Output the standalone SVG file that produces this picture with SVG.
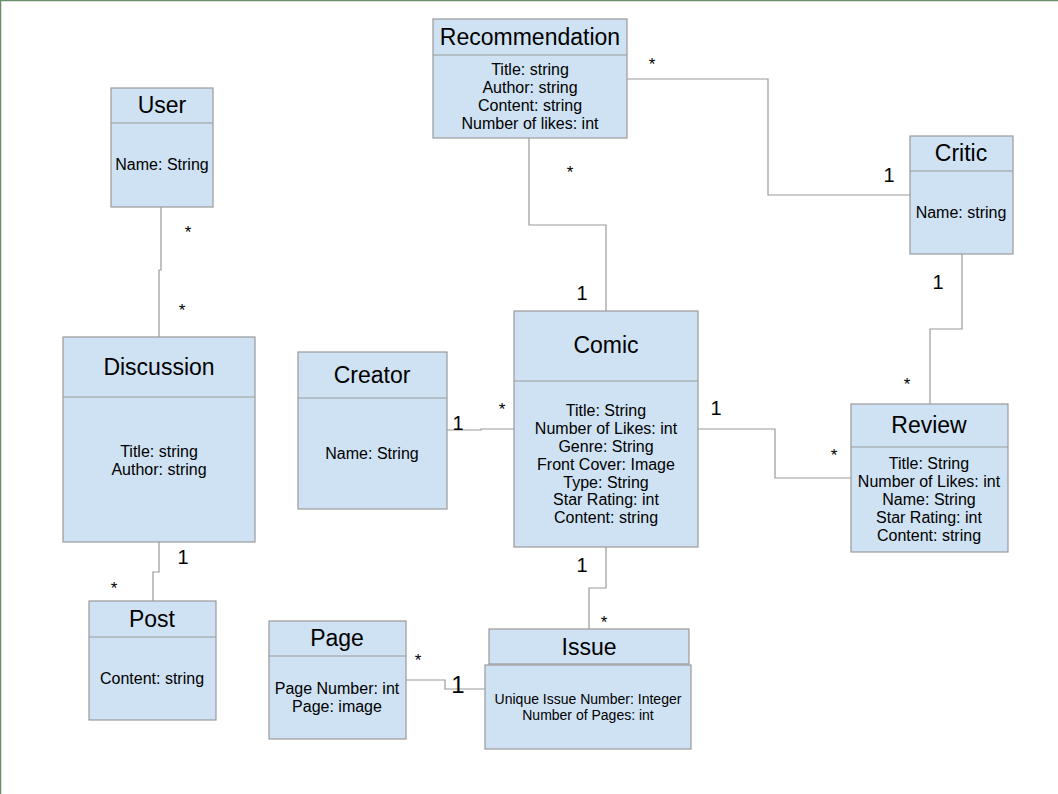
<svg xmlns="http://www.w3.org/2000/svg" width="1058" height="794" viewBox="0 0 1058 794">
<style>
.box{fill:#cfe2f3;stroke:#999;stroke-width:1.2}
.div{stroke:#999;stroke-width:1.2;fill:none}
.t{font-family:"Liberation Sans",Arial,sans-serif;font-size:23px;fill:#000;text-anchor:middle}
.a{font-family:"Liberation Sans",Arial,sans-serif;font-size:16px;fill:#000;text-anchor:middle}
.s{font-family:"Liberation Sans",Arial,sans-serif;font-size:14px;fill:#000;text-anchor:middle}
.m{font-family:"Liberation Sans",Arial,sans-serif;font-size:20px;fill:#000;text-anchor:middle}
.st{font-family:"Liberation Sans",Arial,sans-serif;font-size:17px;fill:#000;text-anchor:middle}
.c{fill:none;stroke:#999;stroke-width:1.2}
</style>
<rect x="0" y="0" width="1058" height="794" fill="#fff"/>
<path d="M0.5 794 V0.5 H1058" fill="none" stroke="#6b8e6b" stroke-width="1.5"/>

<g id="connectors">
<path class="c" d="M627 79 H768 V195 H910"/>
<path class="c" d="M529 138 V225 H606 V311"/>
<path class="c" d="M161 207 V270 H159 V337"/>
<path class="c" d="M159 542 V572 H153 V601"/>
<path class="c" d="M447 430 H481 V429 H514"/>
<path class="c" d="M698 429 H775 V478 H851"/>
<path class="c" d="M962 254 V329 H930 V404"/>
<path class="c" d="M606 547 V588 H589 V629"/>
<path class="c" d="M406 680 H445 V689 H485"/>
<text class="st" x="652" y="70">*</text>
<text class="m" x="889" y="182">1</text>
<text class="st" x="570" y="178">*</text>
<text class="m" x="582" y="300">1</text>
<text class="st" x="188" y="238">*</text>
<text class="st" x="182" y="316">*</text>
<text class="m" x="183" y="564">1</text>
<text class="st" x="114" y="594">*</text>
<text class="m" x="458" y="430">1</text>
<text class="st" x="502" y="415">*</text>
<text class="m" x="716" y="415">1</text>
<text class="st" x="834" y="461">*</text>
<text class="m" x="938" y="289">1</text>
<text class="st" x="907" y="390">*</text>
<text class="m" x="582" y="572">1</text>
<text class="st" x="604" y="628">*</text>
<text class="st" x="418" y="666">*</text>
<text class="m" x="458" y="693" style="font-size:24px">1</text>
</g>

<g id="recommendation">
<rect class="box" x="433" y="19" width="194" height="119"/>
<line class="div" x1="433" y1="55" x2="627" y2="55"/>
<text class="t" x="530" y="45">Recommendation</text>
<text class="a" x="530" y="75">Title: string</text>
<text class="a" x="530" y="93">Author: string</text>
<text class="a" x="530" y="111">Content: string</text>
<text class="a" x="530" y="129">Number of likes: int</text>
</g>

<g id="user">
<rect class="box" x="111" y="88" width="102" height="119"/>
<line class="div" x1="111" y1="123" x2="213" y2="123"/>
<text class="t" x="162" y="113">User</text>
<text class="a" x="162" y="170">Name: String</text>
</g>

<g id="critic">
<rect class="box" x="910" y="136" width="103" height="118"/>
<line class="div" x1="910" y1="171" x2="1013" y2="171"/>
<text class="t" x="961" y="161">Critic</text>
<text class="a" x="961" y="218">Name: string</text>
</g>

<g id="comic">
<rect class="box" x="514" y="311" width="184" height="236"/>
<line class="div" x1="514" y1="381" x2="698" y2="381"/>
<text class="t" x="606" y="353">Comic</text>
<text class="a" x="606" y="416">Title: String</text>
<text class="a" x="606" y="434">Number of Likes: int</text>
<text class="a" x="606" y="452">Genre: String</text>
<text class="a" x="606" y="470">Front Cover: Image</text>
<text class="a" x="606" y="488">Type: String</text>
<text class="a" x="606" y="505">Star Rating: int</text>
<text class="a" x="606" y="523">Content: string</text>
</g>

<g id="creator">
<rect class="box" x="298" y="352" width="149" height="157"/>
<line class="div" x1="298" y1="398" x2="447" y2="398"/>
<text class="t" x="372" y="383">Creator</text>
<text class="a" x="372" y="459">Name: String</text>
</g>

<g id="discussion">
<rect class="box" x="63" y="337" width="192" height="205"/>
<line class="div" x1="63" y1="397" x2="255" y2="397"/>
<text class="t" x="159" y="375">Discussion</text>
<text class="a" x="159" y="457">Title: string</text>
<text class="a" x="159" y="475">Author: string</text>
</g>

<g id="review">
<rect class="box" x="851" y="404" width="157" height="148"/>
<line class="div" x1="851" y1="447" x2="1008" y2="447"/>
<text class="t" x="929" y="433">Review</text>
<text class="a" x="929" y="469">Title: String</text>
<text class="a" x="929" y="487">Number of Likes: int</text>
<text class="a" x="929" y="505">Name: String</text>
<text class="a" x="929" y="523">Star Rating: int</text>
<text class="a" x="929" y="541">Content: string</text>
</g>

<g id="post">
<rect class="box" x="89" y="601" width="127" height="119"/>
<line class="div" x1="89" y1="637" x2="216" y2="637"/>
<text class="t" x="152" y="627">Post</text>
<text class="a" x="152" y="684">Content: string</text>
</g>

<g id="page">
<rect class="box" x="269" y="621" width="137" height="118"/>
<line class="div" x1="269" y1="656" x2="406" y2="656"/>
<text class="t" x="337" y="646">Page</text>
<text class="a" x="337" y="694">Page Number: int</text>
<text class="a" x="337" y="712">Page: image</text>
</g>

<g id="issue">
<rect class="box" x="489" y="629" width="200" height="35"/>
<rect class="box" x="485" y="665" width="206" height="84"/>
<text class="t" x="589" y="655">Issue</text>
<text class="s" x="588" y="704">Unique Issue Number: Integer</text>
<text class="s" x="588" y="720">Number of Pages: int</text>
</g>
</svg>
